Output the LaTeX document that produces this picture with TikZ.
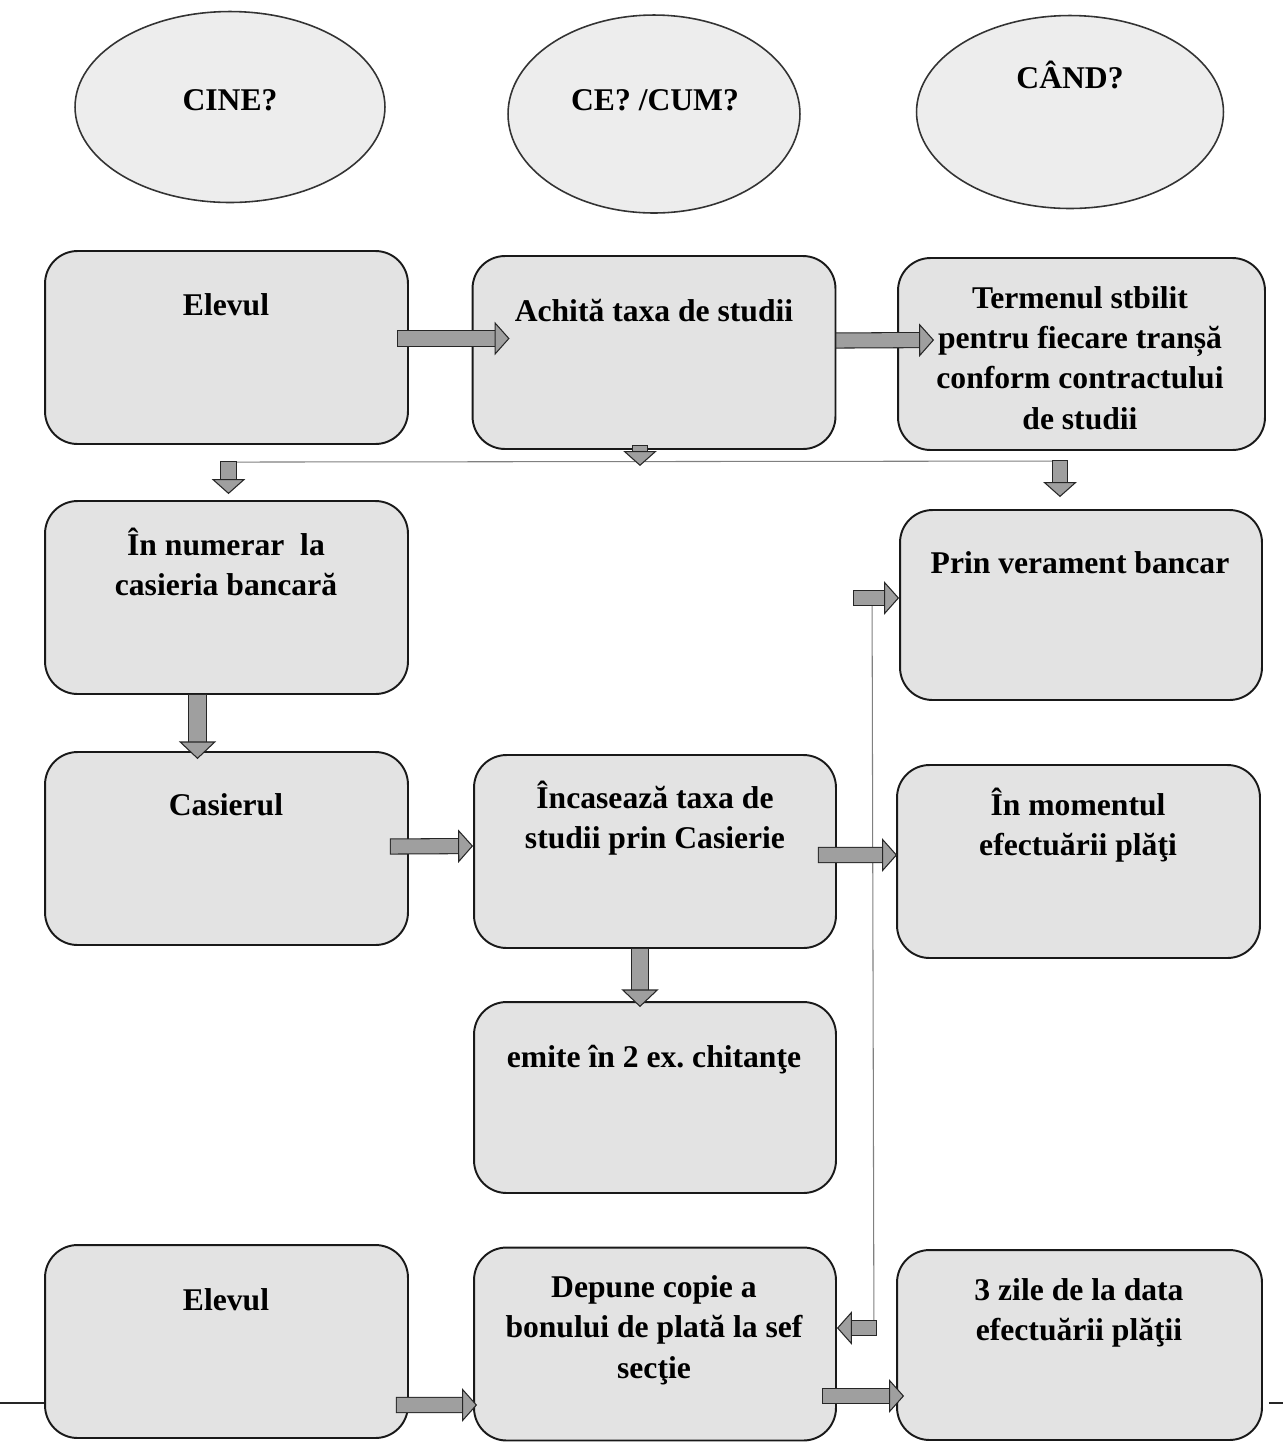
\documentclass[tikz,border=0pt]{standalone}
\usepackage{fontspec}
\setmainfont{Liberation Serif}
\usepackage{tikz}
\usetikzlibrary{positioning,shapes.geometric,arrows.meta,calc}

\begin{document}
\begin{tikzpicture}[x=0.02cm, y=-0.02cm]
      \tikzstyle{oval} = [ellipse, draw=gray!40!black, fill=gray!14, line width=0.9pt]
      \tikzstyle{block} = [rectangle, draw=gray!20!black, fill=gray!22, rounded corners=0.65cm, line width=1.1pt, minimum width=7.26cm, minimum height=3.86cm]
      \tikzstyle{txt} = [align=center, font=\fontsize{18}{23}\selectfont\bfseries, inner sep=0pt]
      \tikzstyle{flow} = [line width=8pt, draw=gray!75, -{Triangle[width=19pt,length=8.5pt,line width=0.6pt,color=gray!30!black,fill=gray!75]}, preaction={draw=gray!30!black, line width=9.2pt, -, shorten >=8pt, shorten <=-0.6pt}]
      \tikzstyle{flowwide} = [line width=9.5pt, draw=gray!75, -{Triangle[width=21pt,length=10pt,line width=0.6pt,color=gray!30!black,fill=gray!75]}, preaction={draw=gray!30!black, line width=10.7pt, -, shorten >=9.5pt, shorten <=-0.6pt}]
      \tikzstyle{link} = [draw=gray, line width=0.6pt]
      \tikzstyle{rule} = [draw=gray!30!black, line width=0.8pt]
      \fill[white] (0,0) rectangle (1283,1445);
      \useasboundingbox (0,0) rectangle (1283,1445);
      % column heads
      \node[oval, minimum width=6.2cm, minimum height=3.82cm] (cine) at (230,107) {};
      \node[oval, minimum width=5.84cm, minimum height=3.96cm] (cecum) at (654,114) {};
      \node[oval, minimum width=6.14cm, minimum height=3.86cm] (cand) at (1070,112) {};
      % boxes
      \node[block] (elev1) at (226.5,347.5) {};
      \node[block] (achita) at (654,352.5) {};
      \node[block, minimum width=7.34cm, minimum height=3.84cm] (termen) at (1081.5,354) {};
      \node[block] (numerar) at (226.5,597.5) {};
      \node[block, minimum width=7.24cm, minimum height=3.8cm] (prin) at (1081,605) {};
      \node[block] (casier) at (226.5,848.5) {};
      \node[block, minimum width=7.24cm] (incaseaza) at (655,851.5) {};
      \node[block] (moment) at (1078.5,861.5) {};
      \node[block, minimum width=7.24cm, minimum height=3.82cm] (emite) at (655,1097.5) {};
      \node[block] (elev2) at (226.5,1341.5) {};
      \node[block, minimum width=7.24cm] (depune) at (655,1344) {};
      \node[block, minimum width=7.3cm, minimum height=3.8cm] (zile) at (1079.5,1345) {};
      % texts
      \node[txt] (t-cine) at (230,100) {CINE?};
      \node[txt] (t-cecum) at (655,100) {CE? /CUM?};
      \node[txt] (t-cand) at (1070,75) {CÂND?};
      \node[txt] (t-elev1) at (226,305) {Elevul};
      \node[txt] (t-achita) at (654,311) {Achită taxa de studii};
      \node[txt] (t-termen) at (1080,358) {Termenul stbilit\\pentru fiecare tranșă\\conform contractului\\de studii};
      \node[txt] (t-numerar) at (226,562) {În numerar\ \ la\\casieria bancară};
      \node[txt] (t-prin) at (1080,563) {Prin verament bancar};
      \node[txt] (t-casier) at (226,805) {Casierul};
      \node[txt] (t-incaseaza) at (655,818) {Încasează taxa de\\studii prin Casierie};
      \node[txt] (t-moment) at (1078,825) {În momentul\\efectuării plăţi};
      \node[txt] (t-emite) at (654,1060) {emite în 2 ex.\ chitanţe};
      \node[txt] (t-elev2) at (226,1300) {Elevul};
      \node[txt] (t-depune) at (654,1330) {Depune copie a\\bonului de plată la sef\\secţie};
      \node[txt] (t-zile) at (1079,1313) {3 zile de la data\\efectuării plăţii};
      % connectors
      \coordinate (busL) at ($(numerar.north)+(2,-38)$);
      \coordinate (busR) at ($(prin.north)+(-21,-48)$);
      \coordinate (linkT) at ($(prin.west)+(-27,-7)$);
      \coordinate (linkB) at ($(depune.east)+(37,-16)$);
      \coordinate (ruleL) at (0,1403);
      \coordinate (ruleR) at (1283,1403);
      \draw[link] (busL) -- (busR);
      \draw[link] (linkT) -- (linkB);
      \draw[flow] ($(elev1.east)+(-11,-9)$) -- ($(achita.west)+(38,-14)$);
      \draw[flow] ($(achita.east)+(0,-12)$) -- ($(termen.west)+(37,-14)$);
      \draw[flow] ($(achita.south)+(-14,-4)$) -- ($(achita.south)+(-14,16)$);
      \draw[flow] (busL) -- ($(numerar.north)+(2,-6)$);
      \draw[flow] (busR) -- ($(prin.north)+(-21,-12)$);
      \draw[flowwide] ($(numerar.south)+(-29,0)$) -- ($(casier.north)+(-29,8)$);
      \draw[flow] ($(casier.east)+(-18,-2)$) -- ($(incaseaza.west)+(0,-5.5)$);
      \draw[flow] ($(incaseaza.east)+(-18,3.5)$) -- ($(moment.west)+(1,-6.5)$);
      \draw[flowwide] ($(incaseaza.south)+(-15,0)$) -- ($(emite.north)+(-15,6)$);
      \draw[flow] ($(elev2.east)+(-12,63.5)$) -- ($(depune.west)+(4,61)$);
      \draw[flow] ($(depune.east)+(-14,52)$) -- ($(zile.west)+(8,51)$);
      \draw[flow] ($(linkT)+(-18,0)$) -- (prin.west |- linkT);
      \draw[flow] ($(linkB)+(2,0)$) -- (depune.east |- linkB);
      \draw[rule] (ruleL) -- (elev2.west |- ruleL);
      \draw[rule] ($(zile.east |- ruleR)+(6,0)$) -- (ruleR);
    \end{tikzpicture}
\end{document}
